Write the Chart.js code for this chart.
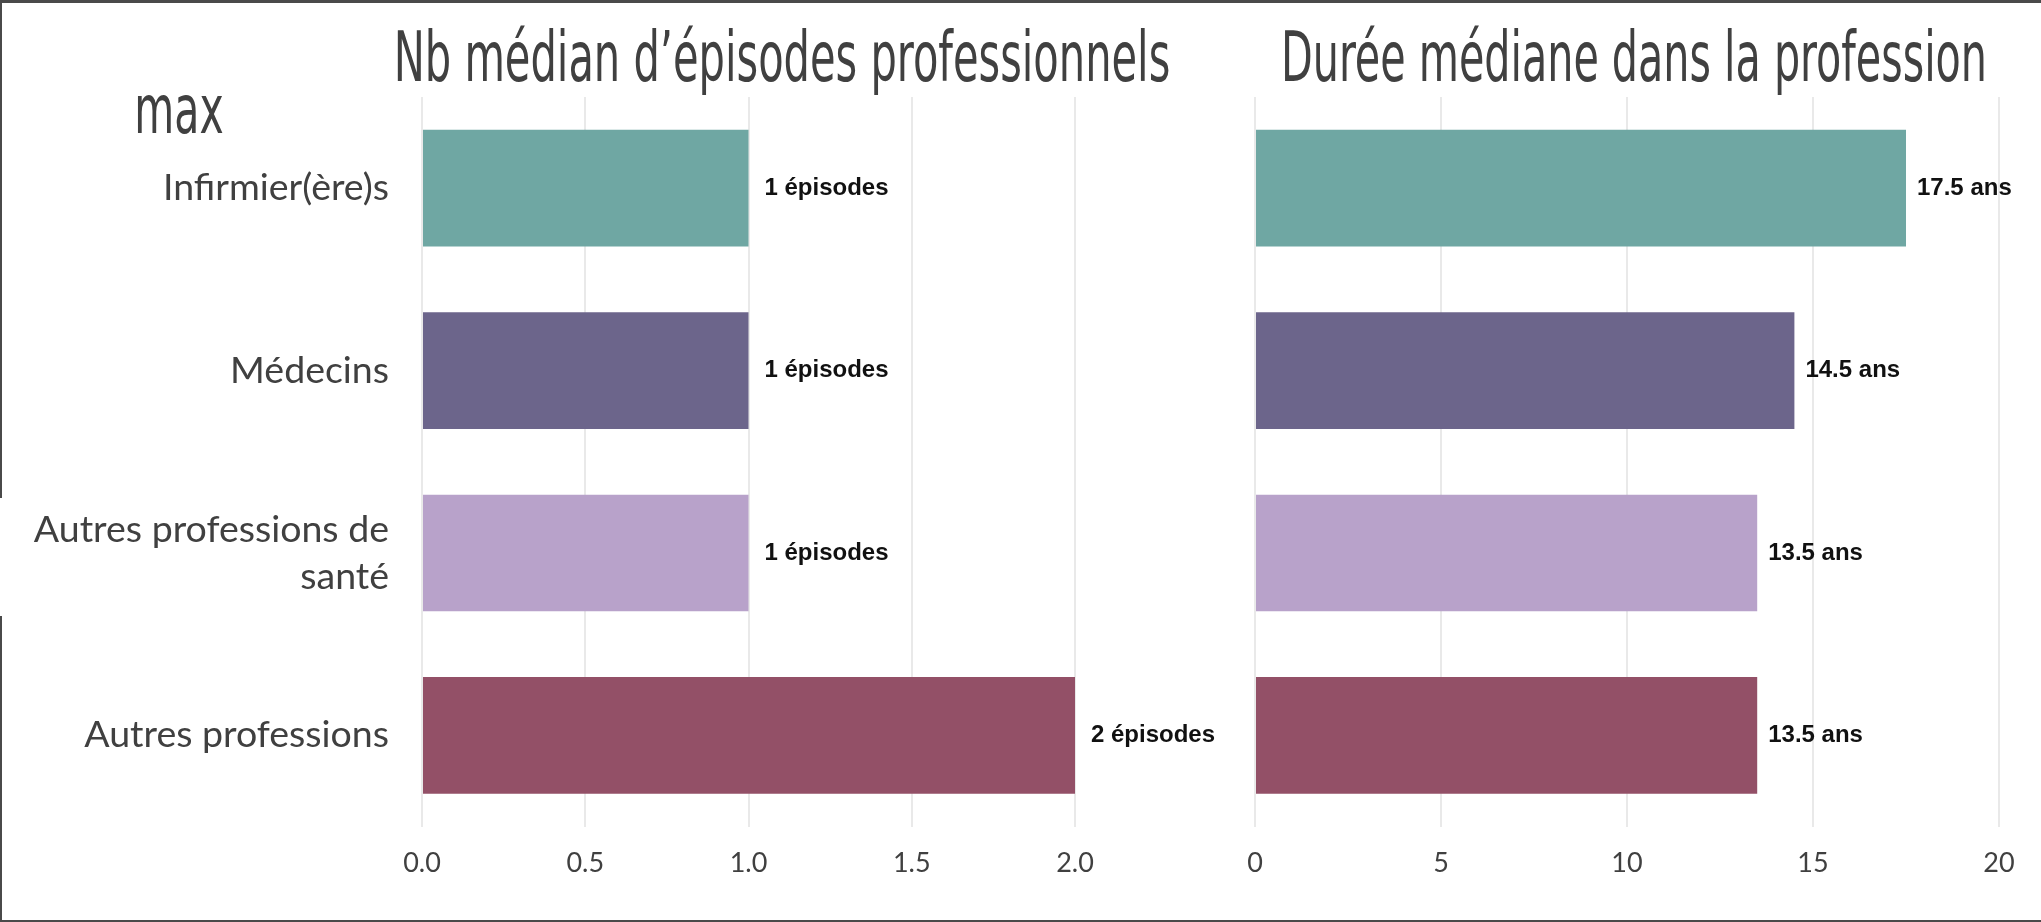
<!DOCTYPE html>
<html lang="fr">
<head>
<meta charset="utf-8">
<title>Épisodes et durée médiane dans la profession</title>
<script src="https://cdn.jsdelivr.net/npm/chart.js@4.4.1/dist/chart.umd.min.js"></script>
<style>
  html, body { margin: 0; padding: 0; background: #ffffff; }
  body { width: 2041px; height: 922px; position: relative; overflow: hidden; }
  #leftWrap { position: absolute; left: 0; top: 0; width: 1230px; height: 922px; }
  #rightWrap { position: absolute; left: 1227px; top: 0; width: 814px; height: 922px; }
  #frame { position: absolute; left: 0; top: 0; width: 2041px; height: 922px; box-sizing: border-box;
           border-top: 3px solid #4a4a4a; border-left: 2px solid #4a4a4a; border-bottom: 2px solid #4a4a4a; pointer-events: none; }
  #gap { position: absolute; left: 0; top: 498px; width: 3px; height: 118px; background: #ffffff; }
  .cond { position: absolute; font-family: "DejaVu Sans Condensed", "DejaVu Sans", sans-serif; color: #404040;
          line-height: 1; white-space: nowrap; text-align: center; transform-origin: 50% 0; }
  #leftTitle  { left: 182px;  top: 22px; width: 1200px; font-size: 70px; transform: scaleX(0.66); }
  #rightTitle { left: 1034px; top: 22px; width: 1200px; font-size: 70px; transform: scaleX(0.655); }
  #maxLabel   { left: 79px;   top: 76px; width: 200px;  font-size: 68px; transform: scaleX(0.67); }
</style>
</head>
<body>
<div id="leftWrap"><canvas id="left"></canvas></div>
<div id="rightWrap"><canvas id="right"></canvas></div>
<div id="frame"></div>
<div id="gap"></div>
<div id="leftTitle" class="cond"></div>
<div id="rightTitle" class="cond"></div>
<div id="maxLabel" class="cond"></div>
<script>
// ---- Data ----
const categories = ["Infirmier(ère)s", "Médecins", ["Autres professions de", "santé"], "Autres professions"];
const episodes = [1, 1, 1, 2];
const durations = [17.5, 14.5, 13.5, 13.5];
const barColors = ["#6fa7a3", "#6c658b", "#b8a2ca", "#935067"];
const leftTitle = "Nb médian d’épisodes professionnels";
const rightTitle = "Durée médiane dans la profession";
const cornerLabel = "max";
const leftTicks = [0, 0.5, 1, 1.5, 2];
const rightTicks = [0, 5, 10, 15, 20];

document.getElementById('leftTitle').textContent = leftTitle;
document.getElementById('rightTitle').textContent = rightTitle;
document.getElementById('maxLabel').textContent = cornerLabel;

const labelFont = 'Lato, "Open Sans", sans-serif';
const textColor = '#404040';
const gridColor = '#e9e9e9';

function valueLabels(formatter, gap) {
  return {
    id: 'valueLabels',
    afterDatasetsDraw(chart) {
      const ctx = chart.ctx;
      const meta = chart.getDatasetMeta(0);
      ctx.save();
      ctx.font = 'bold 24px "Liberation Sans", Arial, sans-serif';
      ctx.fillStyle = '#111111';
      ctx.textAlign = 'left';
      ctx.textBaseline = 'middle';
      meta.data.forEach((bar, i) => {
        const v = chart.data.datasets[0].data[i];
        ctx.fillText(formatter(v), bar.x + gap, bar.y);
      });
      ctx.restore();
    }
  };
}

function baseOptions(ticks, padLeft, padRight, showY, yWidth) {
  return {
    indexAxis: 'y',
    responsive: true,
    maintainAspectRatio: false,
    animation: false,
    layout: { padding: { left: padLeft, right: padRight, top: 97, bottom: 23 } },
    plugins: {
      legend: { display: false },
      tooltip: { enabled: false },
      title: { display: false }
    },
    scales: {
      x: {
        type: 'linear',
        min: ticks[0],
        max: ticks[ticks.length - 1],
        afterBuildTicks(scale) { scale.ticks = ticks.map(v => ({ value: v })); },
        ticks: {
          color: textColor,
          font: { family: labelFont, size: 27 },
          padding: 20,
          callback(v) { return ticks[1] < 1 ? Number(v).toFixed(1) : String(v); }
        },
        grid: { color: gridColor, lineWidth: 2, drawTicks: false },
        border: { display: false }
      },
      y: {
        type: 'category',
        display: showY,
        afterFit(scale) { if (yWidth) scale.width = yWidth; },
        ticks: {
          color: textColor,
          font: { family: labelFont, size: 37.5, lineHeight: 1.25 },
          padding: 33
        },
        grid: { display: false, drawTicks: false },
        border: { display: false }
      }
    }
  };
}

new Chart(document.getElementById('left'), {
  type: 'bar',
  data: {
    labels: categories,
    datasets: [{ data: episodes, backgroundColor: barColors, categoryPercentage: 1.0, barPercentage: 0.64 }]
  },
  options: baseOptions(leftTicks, 0, 155, true, 422),
  plugins: [valueLabels(v => v + ' épisodes', 16)]
});

new Chart(document.getElementById('right'), {
  type: 'bar',
  data: {
    labels: categories,
    datasets: [{ data: durations, backgroundColor: barColors, categoryPercentage: 1.0, barPercentage: 0.64 }]
  },
  options: baseOptions(rightTicks, 28, 42, false, 0),
  plugins: [valueLabels(v => v.toFixed(1) + ' ans', 11)]
});
</script>
</body>
</html>
